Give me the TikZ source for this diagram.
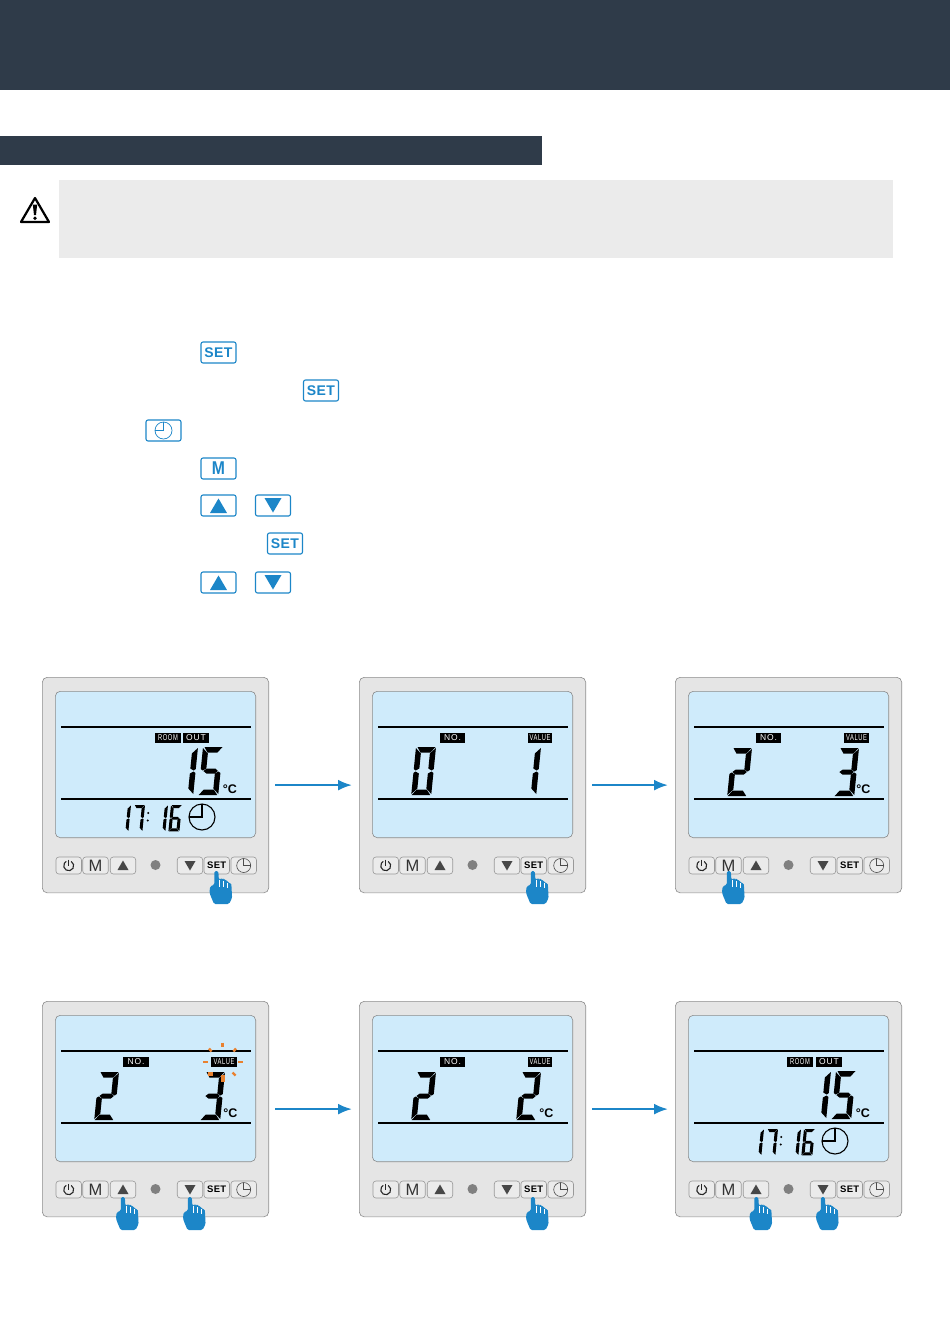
\documentclass[tikz,border=0pt]{standalone}
\usepackage{fontspec}
\setmainfont{Liberation Sans}
\newfontfamily\tagfont[LetterSpace=10]{Liberation Sans}
\newfontfamily\keyfont[LetterSpace=3]{Liberation Sans}
\usetikzlibrary{arrows.meta,positioning}

\definecolor{bandblue}{HTML}{2F3B49}
\definecolor{notegray}{HTML}{EBEBEB}
\definecolor{keyblue}{HTML}{1C86C8}
\definecolor{casegray}{HTML}{E5E5E5}
\definecolor{lcdblue}{HTML}{CFEBFB}
\definecolor{flashorange}{HTML}{E9812F}

\tikzset{
	keybox/.style={draw=keyblue, line width=1.1, rounded corners=2, fill=white, minimum width=35, minimum height=21, inner sep=0, text=keyblue, font=\keyfont\bfseries\fontsize{14}{14}\selectfont},
	panelbox/.style={draw=black!45, line width=0.6, rounded corners=5, fill=casegray, minimum width=226.4, minimum height=215.6, inner sep=0, anchor=north west},
	screenbox/.style={draw=black!45, line width=0.6, rounded corners=5, fill=lcdblue, minimum width=200.4, minimum height=146.4, inner sep=0, anchor=north west},
	btnbox/.style={draw=black!40, line width=0.6, rounded corners=3, fill=black!8, minimum width=25.5, minimum height=17, inner sep=0, text=black!80},
	lcdtag/.style={fill=black, text=white, inner sep=0, minimum height=10.5, font=\tagfont\fontsize{8.5}{8.5}\selectfont},
	degree/.style={inner sep=0, font=\bfseries\fontsize{12.5}{12}\selectfont},
	flowarrow/.style={-{Latex[length=14,width=11]}, draw=keyblue, line width=2.3, shorten <=6, shorten >=7},
}

% segments of a display digit, 20 wide and 48 high
\newcommand{\lcdA}{\fill (1.5,0)--(19.5,0)--(15,5.5)--(5,5.5)--cycle;}
\newcommand{\lcdB}{\fill (20,1)--(20,22)--(18,23.5)--(14.5,21.5)--(14.5,6.5)--cycle;}
\newcommand{\lcdC}{\fill (20,26)--(20,47)--(14.5,41.5)--(14.5,26.5)--(18,24.5)--cycle;}
\newcommand{\lcdD}{\fill (0.5,48)--(19,48)--(15,42.5)--(5,42.5)--cycle;}
\newcommand{\lcdE}{\fill (0,26)--(0,47)--(5.5,41.5)--(5.5,26.5)--(2,24.5)--cycle;}
\newcommand{\lcdF}{\fill (0,1)--(0,22)--(2,23.5)--(5.5,21.5)--(5.5,6.5)--cycle;}
\newcommand{\lcdG}{\fill (2.8,24)--(6,21.5)--(14.5,21.5)--(17.2,24)--(14.5,26.5)--(6,26.5)--cycle;}

\expandafter\newcommand\csname lcdshape0\endcsname{\lcdA\lcdB\lcdC\lcdD\lcdE\lcdF}
\expandafter\newcommand\csname lcdshape1\endcsname{\lcdB\lcdC}
\expandafter\newcommand\csname lcdshape2\endcsname{\lcdA\lcdB\lcdG\lcdE\lcdD}
\expandafter\newcommand\csname lcdshape3\endcsname{\lcdA\lcdB\lcdG\lcdC\lcdD}
\expandafter\newcommand\csname lcdshape5\endcsname{\lcdA\lcdF\lcdG\lcdC\lcdD}
\expandafter\newcommand\csname lcdshape6\endcsname{\lcdA\lcdF\lcdG\lcdE\lcdC\lcdD}
\expandafter\newcommand\csname lcdshape7\endcsname{\lcdA\lcdB\lcdC}

\newcommand{\lcdnum}[4]{%
	\begin{scope}[shift={(#1,#2)},scale=#3,xslant=0.1]
		\csname lcdshape#4\endcsname
	\end{scope}}

% the thermostat: case, screen, two rules and the row of buttons
\newcommand{\thermostat}[3]{%
	\node (#1) [panelbox] at (#2,#3) {};
	\begin{scope}[shift={(#2,#3)}]
		\node (#1screen) [screenbox] at (13,14) {};
		\draw[line width=1.8] (19,50)--(209,50);
		\draw[line width=1.8] (19,122)--(209,122);
		\node (#1power) [btnbox] at (26.7,188.5) {};
		\node (#1mode) [btnbox, font=\fontsize{16.5}{16}\selectfont] at (53.5,188.5) {M};
		\node (#1up) [btnbox] at (81,188.5) {};
		\node (#1down) [btnbox] at (148,188.5) {};
		\node (#1set) [btnbox, font=\keyfont\bfseries\fontsize{9.5}{9}\selectfont, text=black] at (174.7,188.5) {SET};
		\node (#1time) [btnbox] at (201.7,188.5) {};
		\draw[black!85, line width=1.1] (29.2,184.4) arc[start angle=60, end angle=-240, radius=5pt];
		\draw[black!85, line width=1.1] (26.7,182.5)--(26.7,188.5);
		\fill[black!72] (81,183.5)--(86.5,193)--(75.5,193)--cycle;
		\fill[black!72] (148,193.5)--(153.5,184)--(142.5,184)--cycle;
		\draw[black!70, line width=0.6] (201.7,188.5) circle[radius=7pt];
		\draw[black!70, line width=0.6] (201.7,181.5)--(201.7,188.5)--(208.7,188.5);
		\fill[black!50] (113.5,188) circle[radius=5pt];
	\end{scope}}

% pointing hand, finger tip at the given point
\newcommand{\handat}[2]{%
	\begin{scope}[shift={(#1,#2)}]
		\fill[keyblue, rounded corners=1.5] (-2.2,0)--(1.8,0)--(2.4,9)--(3.4,7.5)--(6.8,7.5)--(7.4,9)--(10.8,9)--(11.4,12)--(14.8,12)--(15.6,27)--(12.5,33)--(-2.5,33)--(-7,22)--(-6.5,15.5)--(-2,13.5)--cycle;
		\draw[white, line width=0.3] (2.9,9)--(2.9,16);
		\draw[white, line width=0.3] (7.1,10)--(7.1,16);
		\draw[white, line width=0.3] (11.1,12)--(11.1,17);
	\end{scope}}

\begin{document}
\begin{tikzpicture}[x=1pt, y=-1pt]

\useasboundingbox (0,0) rectangle (950,1344);

\fill[bandblue] (0,0) rectangle (950,90);
\fill[bandblue] (0,136) rectangle (542,165);
\fill[notegray] (59,180) rectangle (893,258);

% warning sign
\draw[line width=2.2, line join=round] (35,198)--(49,222)--(21,222)--cycle;
\fill (32.8,204.5)--(37.2,204.5)--(36,215)--(34,215)--cycle;
\fill (35,218.2) circle[radius=1.8pt];

% keys in the step list
\node (keysetA) [keybox] at (218.5,352.5) {SET};
\node (keysetB) [keybox] at (321,390.5) {SET};
\node (keyclock) [keybox] at (163.5,430.5) {};
\node (keymode) [keybox, font=\bfseries\fontsize{18.5}{18}\selectfont] at (218.5,468.5) {\scalebox{.85}[1]{M}};
\node (keyupA) [keybox] at (218.5,505.5) {};
\node (keydownA) [keybox] at (273,505.5) {};
\node (keysetC) [keybox] at (285,543.5) {SET};
\node (keyupB) [keybox] at (218.5,582.5) {};
\node (keydownB) [keybox] at (273,582.5) {};

\draw[keyblue, line width=0.7] (keyclock) circle[radius=8.5pt];
\draw[keyblue, line width=0.7] ([yshift=8.5pt]keyclock.center)--(keyclock.center)--([xshift=-8.5pt]keyclock.center);
\foreach \k in {keyupA,keyupB}
	\fill[keyblue] ([yshift=7pt]\k.center)--([xshift=8.5pt,yshift=-7.5pt]\k.center)--([xshift=-8.5pt,yshift=-7.5pt]\k.center)--cycle;
\foreach \k in {keydownA,keydownB}
	\fill[keyblue] ([yshift=-7pt]\k.center)--([xshift=8.5pt,yshift=7.5pt]\k.center)--([xshift=-8.5pt,yshift=7.5pt]\k.center)--cycle;

% first row
\thermostat{panA}{42}{677}
\thermostat{panB}{359}{677}
\thermostat{panC}{675}{677}

\node (tagroomA) [lcdtag, minimum width=26] at (168,738) {\scalebox{.68}[1]{ROOM}};
\node (tagoutA) [lcdtag, minimum width=26] at (196,738) {OUT};
\lcdnum{178}{747}{1}{1}
\lcdnum{203}{747}{1}{5}
\node (degA) [degree] at (230,789.5) {°C};
\lcdnum{120}{805}{0.55}{1}
\lcdnum{134}{805}{0.55}{7}
\fill (148.3,813) circle[radius=1.1pt];
\fill (147.8,820.5) circle[radius=1.1pt];
\lcdnum{157}{805}{0.55}{1}
\lcdnum{171}{805}{0.55}{6}
\draw[line width=1.1] (202,817) circle[radius=13pt];
\draw[line width=1.1] (202,804)--(202,817)--(189,817);

\node (tagnoB) [lcdtag, minimum width=25] at (452.5,738) {NO.};
\node (tagvalB) [lcdtag, minimum width=24] at (540,738) {\scalebox{.68}[1]{VALUE}};
\lcdnum{416}{747}{1}{0}
\lcdnum{521}{747}{1}{1}

\node (tagnoC) [lcdtag, minimum width=25] at (768.5,738) {NO.};
\node (tagvalC) [lcdtag, minimum width=25] at (856.5,738) {\scalebox{.68}[1]{VALUE}};
\lcdnum{732}{748}{1}{2}
\lcdnum{839}{748}{1}{3}
\node (degC) [degree] at (863.5,789.5) {°C};

\handat{216.5}{871}
\handat{533}{871}
\handat{729}{871}

% second row
\thermostat{panD}{42}{1001}
\thermostat{panE}{359}{1001}
\thermostat{panF}{675}{1001}

\node (tagnoD) [lcdtag, minimum width=26] at (136,1062) {NO.};
\node (tagvalD) [lcdtag, minimum width=26] at (224,1062) {\scalebox{.68}[1]{VALUE}};
\lcdnum{99}{1072}{1}{2}
\lcdnum{205}{1072}{1}{3}
\node (degD) [degree] at (230.5,1113.5) {°C};
\foreach \xa/\ya/\xb/\yb in {222.3/1042.5/222.3/1047, 209/1048.5/211.5/1051.5, 236/1048.5/233.5/1051.5, 203/1062/208/1062, 238/1062/243/1062, 232.5/1072.5/235.5/1075.5}
	\draw[flashorange, line width=2.4] (\xa,\ya)--(\xb,\yb);
\fill[flashorange] (208,1072) rectangle (213,1076);
\fill[flashorange] (220.5,1075) rectangle (224.5,1082);

\node (tagnoE) [lcdtag, minimum width=25] at (452.5,1062) {NO.};
\node (tagvalE) [lcdtag, minimum width=24] at (540,1062) {\scalebox{.68}[1]{VALUE}};
\lcdnum{416}{1072}{1}{2}
\lcdnum{521}{1072}{1}{2}
\node (degE) [degree] at (546.5,1113.5) {°C};

\node (tagroomF) [lcdtag, minimum width=26] at (800,1062) {\scalebox{.68}[1]{ROOM}};
\node (tagoutF) [lcdtag, minimum width=26] at (829,1062) {OUT};
\lcdnum{811}{1071}{1}{1}
\lcdnum{836}{1071}{1}{5}
\node (degF) [degree] at (863,1113.5) {°C};
\lcdnum{753}{1129}{0.55}{1}
\lcdnum{767}{1129}{0.55}{7}
\fill (781.3,1137) circle[radius=1.1pt];
\fill (780.8,1144.5) circle[radius=1.1pt];
\lcdnum{790}{1129}{0.55}{1}
\lcdnum{804}{1129}{0.55}{6}
\draw[line width=1.1] (835,1141) circle[radius=13pt];
\draw[line width=1.1] (835,1128)--(835,1141)--(822,1141);

\handat{123}{1197}
\handat{190}{1197}
\handat{533}{1197}
\handat{756.5}{1197}
\handat{823}{1197}

% flow between the panels
\draw[flowarrow] (panA)--(panB);
\draw[flowarrow] (panB)--(panC);
\draw[flowarrow] (panD)--(panE);
\draw[flowarrow] (panE)--(panF);

\end{tikzpicture}
\end{document}
